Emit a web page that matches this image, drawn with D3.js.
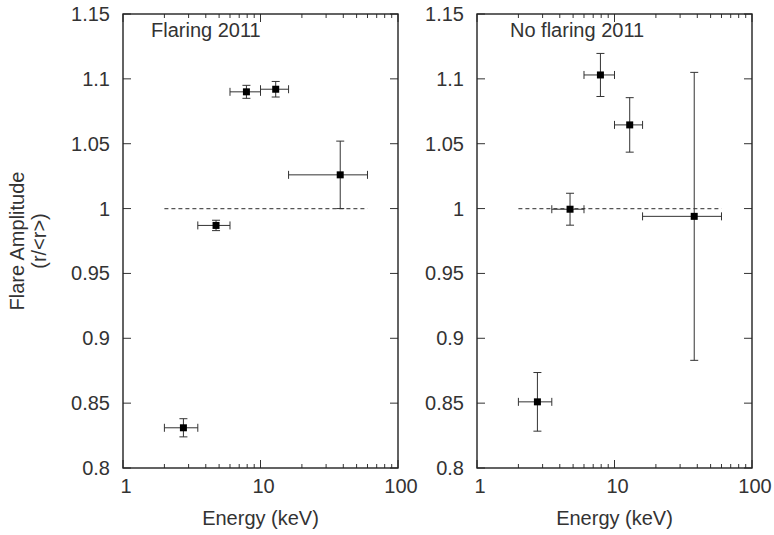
<!DOCTYPE html>
<html>
<head>
<meta charset="utf-8">
<script src="https://cdn.jsdelivr.net/npm/d3@7"></script>
<style>
  body { margin: 0; background: white; }
  text { font-family: "Liberation Sans", Arial, sans-serif; fill: #333; }
</style>
</head>
<body>
<div id="chart"></div>
<script>
// energy bins (keV) shared by both panels
var energy = [2.75, 4.75, 7.9, 12.9, 38]
var energyLo = [2, 3.5, 6, 10, 16]
var energyHi = [3.5, 6, 10, 16, 60]

// flare amplitude r/<r>
var flaring = [0.831, 0.987, 1.090, 1.092, 1.026]
var flaringErr = [0.007, 0.004, 0.005, 0.006, 0.026]
var noFlaring = [0.851, 0.9995, 1.103, 1.0645, 0.994]
var noFlaringErr = [0.0226, 0.0123, 0.0166, 0.021, 0.111]

var yTicks = [0.8, 0.85, 0.9, 0.95, 1, 1.05, 1.1, 1.15]
var xTicks = [1, 10, 100]
var xMinor = [2, 3, 4, 5, 6, 7, 8, 9, 20, 30, 40, 50, 60, 70, 80, 90]
var refLine = [2, 60] //dashed line at 1 spans this energy range

var svg = d3.select("#chart").append("svg")
            .attr("width", 774)
            .attr("height", 535)

// note: "top" is taken by window.top, so use other names
var plotTop = 14, plotBottom = 468

var y = d3.scaleLinear()
          .domain([0.8, 1.15])
          .range([plotBottom, plotTop])

function makePanel(left, right, title, titleOffset, values, errs)
{
    var x = d3.scaleLog()
              .domain([1, 100])
              .range([left, right])

    var g = svg.append("g")

    //ticks on all four sides, pointing inward
    g.selectAll(".ytl").data(yTicks).enter().append("line")
        .attr("x1", left).attr("x2", left + 8)
        .attr("y1", d => y(d)).attr("y2", d => y(d))
        .style("stroke", "#333").style("stroke-width", 1)
    g.selectAll(".ytr").data(yTicks).enter().append("line")
        .attr("x1", right).attr("x2", right - 8)
        .attr("y1", d => y(d)).attr("y2", d => y(d))
        .style("stroke", "#333").style("stroke-width", 1)

    var allX = xTicks.map(d => [d, 8]).concat(xMinor.map(d => [d, 4]))
    g.selectAll(".xtb").data(allX).enter().append("line")
        .attr("x1", d => x(d[0])).attr("x2", d => x(d[0]))
        .attr("y1", plotBottom).attr("y2", d => plotBottom - d[1])
        .style("stroke", "#333").style("stroke-width", 1)
    g.selectAll(".xtt").data(allX).enter().append("line")
        .attr("x1", d => x(d[0])).attr("x2", d => x(d[0]))
        .attr("y1", plotTop).attr("y2", d => plotTop + d[1])
        .style("stroke", "#333").style("stroke-width", 1)

    //frame
    g.append("rect")
        .attr("x", left).attr("y", plotTop)
        .attr("width", right - left).attr("height", plotBottom - plotTop)
        .style("fill", "none")
        .style("stroke", "#222")
        .style("stroke-width", 1.4)

    //tick labels
    g.selectAll(".yl").data(yTicks).enter().append("text")
        .text(d => d)
        .attr("x", left - 13)
        .attr("y", d => y(d) + 7)
        .attr("text-anchor", "end")
        .style("font-size", "20px")
    g.selectAll(".xl").data(xTicks).enter().append("text")
        .text(d => d)
        .attr("x", d => x(d) + 3)
        .attr("y", plotBottom + 25)
        .attr("text-anchor", "middle")
        .style("font-size", "20px")

    g.append("text")
        .text("Energy (keV)")
        .attr("x", (left + right) / 2)
        .attr("y", 525)
        .attr("text-anchor", "middle")
        .style("font-size", "20px")

    g.append("text")
        .text(title)
        .attr("x", left + titleOffset)
        .attr("y", 37)
        .style("font-size", "20px")

    //dashed reference line
    g.append("line")
        .attr("x1", x(refLine[0])).attr("x2", x(refLine[1]))
        .attr("y1", y(1)).attr("y2", y(1))
        .style("stroke", "#555")
        .style("stroke-width", 1.2)
        .style("stroke-dasharray", "4,3")

    //error bars
    var pts = values.map(function(v, i){
        return {e: energy[i], lo: energyLo[i], hi: energyHi[i], v: v, err: errs[i]}
    })

    var bars = g.selectAll(".pt").data(pts).enter().append("g")

    bars.append("line")
        .attr("x1", d => x(d.lo)).attr("x2", d => x(d.hi))
        .attr("y1", d => y(d.v)).attr("y2", d => y(d.v))
    bars.append("line")
        .attr("x1", d => x(d.lo)).attr("x2", d => x(d.lo))
        .attr("y1", d => y(d.v) - 4).attr("y2", d => y(d.v) + 4)
    bars.append("line")
        .attr("x1", d => x(d.hi)).attr("x2", d => x(d.hi))
        .attr("y1", d => y(d.v) - 4).attr("y2", d => y(d.v) + 4)
    bars.append("line")
        .attr("x1", d => x(d.e)).attr("x2", d => x(d.e))
        .attr("y1", d => y(d.v - d.err)).attr("y2", d => y(d.v + d.err))
    bars.append("line")
        .attr("x1", d => x(d.e) - 4).attr("x2", d => x(d.e) + 4)
        .attr("y1", d => y(d.v - d.err)).attr("y2", d => y(d.v - d.err))
    bars.append("line")
        .attr("x1", d => x(d.e) - 4).attr("x2", d => x(d.e) + 4)
        .attr("y1", d => y(d.v + d.err)).attr("y2", d => y(d.v + d.err))
    bars.selectAll("line")
        .style("stroke", "#333")
        .style("stroke-width", 1)

    bars.append("rect")
        .attr("x", d => x(d.e) - 3.5)
        .attr("y", d => y(d.v) - 3.5)
        .attr("width", 7)
        .attr("height", 7)
        .style("fill", "black")
}

makePanel(123, 398, "Flaring 2011", 28, flaring, flaringErr)
makePanel(477, 752, "No flaring 2011", 33, noFlaring, noFlaringErr)

//shared y axis label
var yLabel = svg.append("text")
    .attr("transform", "translate(24," + ((plotTop + plotBottom) / 2) + ") rotate(-90)")
    .attr("text-anchor", "middle")
    .style("font-size", "20px")
yLabel.append("tspan").attr("x", 0).attr("y", 0).text("Flare Amplitude")
yLabel.append("tspan").attr("x", 0).attr("y", 22).text("(r/<r>)")
</script>
</body>
</html>
